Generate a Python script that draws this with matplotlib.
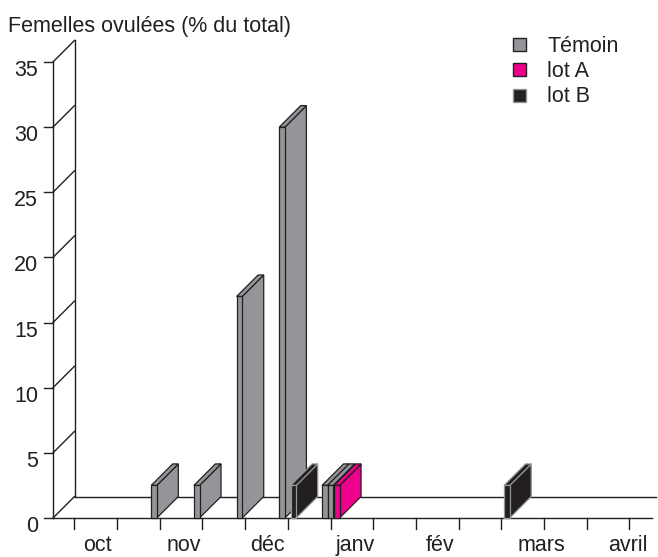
import matplotlib
matplotlib.use("Agg")
import matplotlib.pyplot as plt
from matplotlib.patches import Polygon, Rectangle

plt.rcParams['font.family'] = ['Liberation Sans', 'DejaVu Sans']

# ---- data ----
# 14 half-month periods, October to April
periods = ["oct-1", "oct-2", "nov-1", "nov-2", "déc-1", "déc-2", "janv-1", "janv-2",
           "fév-1", "fév-2", "mars-1", "mars-2", "avril-1", "avril-2"]
temoin = [0, 0, 2.5, 2.5, 17, 30, 2.5, 0, 0, 0, 0, 0, 0, 0]
temoin_bis = [0, 0, 0, 0, 0, 0, 2.5, 0, 0, 0, 0, 0, 0, 0]
lot_a = [0, 0, 0, 0, 0, 0, 2.5, 0, 0, 0, 0, 0, 0, 0]
lot_b = [0, 0, 0, 0, 0, 2.5, 0, 0, 0, 0, 2.5, 0, 0, 0]
month_labels = ["oct", "nov", "déc", "janv", "fév", "mars", "avril"]
month_label_pos = [1.05, 3.07, 5.03, 7.07, 9.07, 11.45, 13.47]
y_ticks = [0, 5, 10, 15, 20, 25, 30, 35]
legend_labels = ["Témoin", "lot A", "lot B"]

# ---- style ----
GRAY = "#939598"
PINK = "#ec008c"
DARK = "#231f20"
LINE = "#231f20"

W, H = 658, 557
PX_U = 42.7      # pixels per period
PX_V = 13.03     # pixels per percent
X0, Y0 = 53, 518  # pixel position of origin (from top-left)

fig = plt.figure(figsize=(W / 100, H / 100), dpi=100)
ax = fig.add_axes([0, 0, 1, 1])
ax.set_xlim(-X0 / PX_U, (W - X0) / PX_U)
ax.set_ylim(-(H - Y0) / PX_V, Y0 / PX_V)
ax.axis("off")

dx = 21.5 / PX_U
dy = 21.5 / PX_V
bw = 5.6 / PX_U
lw = 1.0
n = len(periods)
x_end_front = (652 - X0) / PX_U
x_end_back = (656 - X0) / PX_U

# walls / floor
ax.plot([0, 0], [0, 35], color=LINE, lw=lw, zorder=1)
ax.plot([dx, dx], [dy, 35 + dy], color=LINE, lw=lw, zorder=1)
for v in y_ticks:
    ax.plot([0, dx], [v, v + dy], color=LINE, lw=lw, zorder=1)
    ax.plot([-9 / PX_U, 0], [v, v], color=LINE, lw=lw, zorder=1)
    ax.text(-15 / PX_U, v - 14 / PX_V, str(v), ha="right", va="baseline",
            fontsize=15.5, color="#231f20")
ax.plot([dx, x_end_back], [dy, dy], color=LINE, lw=lw, zorder=1)
ax.plot([0, x_end_front], [0, 0], color=LINE, lw=lw, zorder=1)
for i in range(n):
    ax.plot([i + 0.5, i + 0.5], [0, -11 / PX_V], color=LINE, lw=lw, zorder=1)

for lab, pos in zip(month_labels, month_label_pos):
    ax.text(pos, -33 / PX_V, lab, ha="center", va="baseline", fontsize=15.5,
            color="#231f20")

ax.text(-45 / PX_U, 486 / PX_V, "Femelles ovulées (% du total)", ha="left",
        va="baseline", fontsize=15.5, color="#231f20")


def slab(x, v, face, edge, z):
    front = [(x, 0), (x + bw, 0), (x + bw, v), (x, v)]
    side = [(x + bw, 0), (x + bw + dx, dy), (x + bw + dx, v + dy), (x + bw, v)]
    top = [(x, v), (x + dx, v + dy), (x + bw + dx, v + dy), (x + bw, v)]
    for poly in (side, top, front):
        ax.add_patch(Polygon(poly, closed=True, facecolor=face, edgecolor=edge,
                             lw=0.9, joinstyle="miter", zorder=z))


series = [
    (temoin, 0.30, GRAY, DARK),
    (temoin_bis, 0.43, GRAY, DARK),
    (lot_b, 0.565, DARK, GRAY),
    (lot_a, 0.58, PINK, DARK),
]
bars = []
for vals, off, face, edge in series:
    for i, v in enumerate(vals):
        if v > 0:
            bars.append((i + off, v, face, edge))
bars.sort(key=lambda b: b[0])
for k, (x, v, face, edge) in enumerate(bars):
    slab(x, v, face, edge, 3 + k)

# legend
leg_colors = [(GRAY, DARK), (PINK, DARK), (DARK, GRAY)]
leg_y = [44, 69.5, 95]
for lab, (face, edge), yp in zip(legend_labels, leg_colors, leg_y):
    yc = (Y0 - yp) / PX_V
    ax.add_patch(Rectangle(((513 - X0) / PX_U, yc - 6.5 / PX_V), 13 / PX_U, 13 / PX_V,
                           facecolor=face, edgecolor=edge, lw=1.0, zorder=5))
    ax.text((547 - X0) / PX_U, yc - 7.5 / PX_V, lab, ha="left", va="baseline",
            fontsize=15.5, color="#231f20")

fig.savefig("out.png", dpi=100)
